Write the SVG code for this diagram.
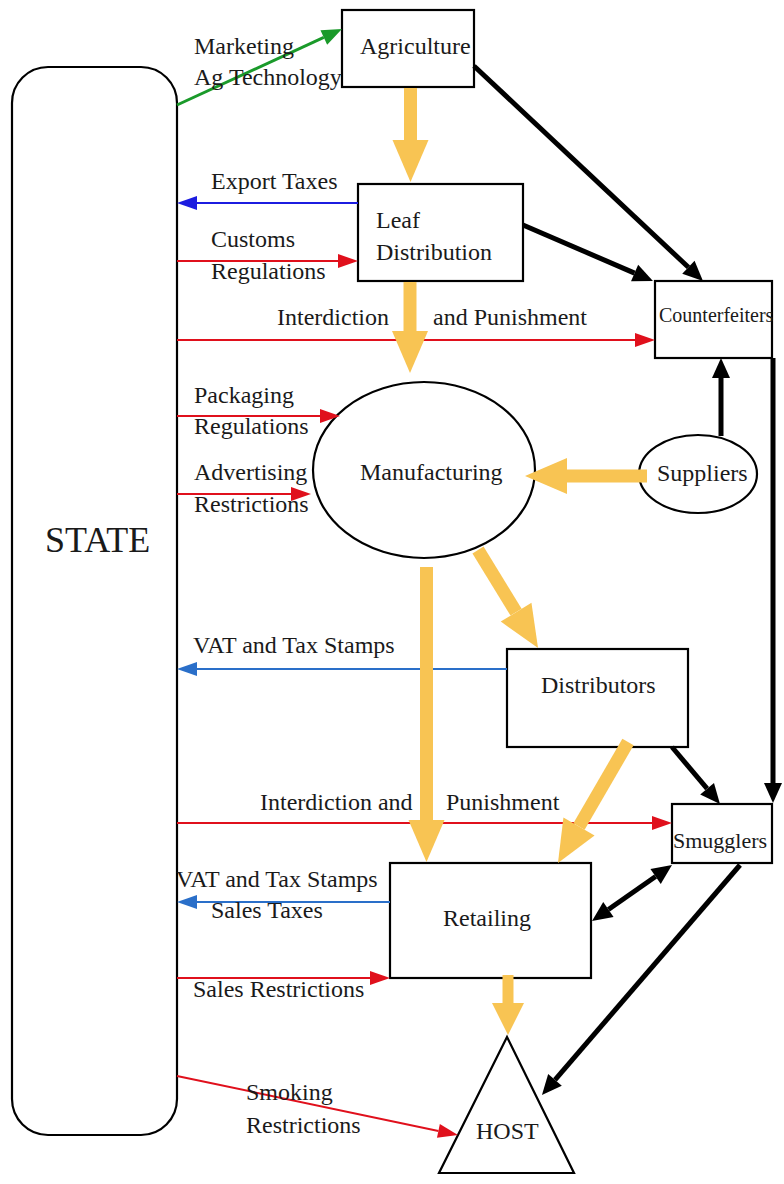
<svg xmlns="http://www.w3.org/2000/svg" width="784" height="1184" viewBox="0 0 784 1184">
<style>
text{font-family:"Liberation Serif","Times New Roman",serif;font-size:24px;fill:#1a1a1a}
.box{fill:#fff;stroke:#000;stroke-width:2.2}
.red{stroke:#e0101c;stroke-width:2;fill:none;marker-end:url(#hr)}
.blue{stroke:#1c1ce0;stroke-width:2;fill:none;marker-end:url(#hb)}
.blue2{stroke:#2a6fc9;stroke-width:2;fill:none;marker-end:url(#hb2)}
.blk{stroke:#000;stroke-width:5;fill:none;marker-end:url(#hk)}
.yel{stroke:#f8c453;stroke-width:13;fill:none;marker-end:url(#hy)}
</style>
<defs>
<marker id="hr" markerUnits="userSpaceOnUse" orient="auto" refX="0" refY="0" overflow="visible"><path d="M0,-7 L20,0 L0,7 Z" fill="#e0101c"/></marker>
<marker id="hb" markerUnits="userSpaceOnUse" orient="auto" refX="0" refY="0" overflow="visible"><path d="M0,-7 L20,0 L0,7 Z" fill="#1c1ce0"/></marker>
<marker id="hb2" markerUnits="userSpaceOnUse" orient="auto" refX="0" refY="0" overflow="visible"><path d="M0,-7 L20,0 L0,7 Z" fill="#2a6fc9"/></marker>
<marker id="hg" markerUnits="userSpaceOnUse" orient="auto" refX="0" refY="0" overflow="visible"><path d="M0,-8 L20,0 L0,8 Z" fill="#1a9a2a"/></marker>
<marker id="hk" markerUnits="userSpaceOnUse" orient="auto-start-reverse" refX="0" refY="0" overflow="visible"><path d="M0,-9 L20,0 L0,9 Z" fill="#000"/></marker>
<marker id="hy" markerUnits="userSpaceOnUse" orient="auto" refX="0" refY="0" overflow="visible"><path d="M0,-18 L42,0 L0,18 Z" fill="#f8c453"/></marker>
<marker id="hys" markerUnits="userSpaceOnUse" orient="auto" refX="0" refY="0" overflow="visible"><path d="M0,-16 L32,0 L0,16 Z" fill="#f8c453"/></marker>
</defs>
<rect width="784" height="1184" fill="#fff"/>

<g id="state"><rect class="box" x="12" y="67" width="165" height="1068" rx="36"/><text x="45" y="552" style="font-size:36px">STATE</text></g>
<g id="agriculture"><rect class="box" x="342" y="10" width="132" height="77"/><text x="360" y="54">Agriculture</text></g>
<g id="leaf-distribution"><rect class="box" x="358" y="184" width="165" height="97"/><text x="376" y="228">Leaf</text><text x="376" y="260">Distribution</text></g>
<g id="counterfeiters"><rect class="box" x="655" y="281" width="117" height="77"/><text x="659" y="322" style="font-size:20px">Counterfeiters</text></g>
<g id="manufacturing"><ellipse class="box" cx="424" cy="470" rx="111" ry="88"/><text x="360" y="480">Manufacturing</text></g>
<g id="suppliers"><ellipse class="box" cx="698" cy="474" rx="59" ry="39"/><text x="657" y="481">Suppliers</text></g>
<g id="distributors"><rect class="box" x="507" y="649" width="181" height="98"/><text x="541" y="693">Distributors</text></g>
<g id="smugglers"><rect class="box" x="672" y="804" width="100" height="59"/><text x="673" y="848" style="font-size:22px">Smugglers</text></g>
<g id="retailing"><rect class="box" x="390" y="863" width="201" height="115"/><text x="443" y="926">Retailing</text></g>
<g id="host"><polygon class="box" points="507,1037 574,1173 439,1173"/><text x="476" y="1139">HOST</text></g>

<g id="connectors">
<line x1="177" y1="105" x2="323.8" y2="37.4" stroke="#1a9a2a" stroke-width="3" marker-end="url(#hg)"/>
<line class="blue" x1="358" y1="203" x2="197" y2="203"/>
<line class="red" x1="177" y1="261" x2="338" y2="261"/>
<line class="red" x1="177" y1="340" x2="635" y2="340"/>
<line class="red" x1="177" y1="416" x2="320" y2="416"/>
<line class="red" x1="177" y1="494" x2="291" y2="494"/>
<line class="blue2" x1="507" y1="669" x2="197" y2="669"/>
<line class="red" x1="177" y1="823" x2="652" y2="823"/>
<line class="blue2" x1="390" y1="902" x2="197" y2="902"/>
<line class="red" x1="177" y1="978" x2="370" y2="978"/>
<line class="red" x1="177" y1="1076" x2="438.4" y2="1130.9"/>

<line class="blk" x1="474" y1="66" x2="688.4" y2="267.3"/>
<line class="blk" x1="523" y1="225" x2="634.6" y2="273.1"/>
<line class="blk" x1="721" y1="436" x2="721" y2="378"/>
<line class="blk" x1="773" y1="358" x2="773" y2="783"/>
<line class="blk" x1="672" y1="747" x2="707.1" y2="788.7"/>
<line class="blk" x1="740" y1="865" x2="555" y2="1079.8"/>
<line class="blk" x1="608.4" y1="909.5" x2="655.6" y2="876.5" marker-start="url(#hk)"/>

<line class="yel" x1="410.5" y1="88" x2="410.5" y2="140"/>
<line class="yel" x1="410" y1="282" x2="410" y2="331"/>
<line class="yel" x1="647" y1="476" x2="567" y2="476"/>
<line class="yel" x1="478" y1="550" x2="516.1" y2="612.2" stroke-width="15"/>
<line class="yel" x1="426.5" y1="567" x2="426.5" y2="820"/>
<line class="yel" x1="628" y1="742" x2="579" y2="826.6" stroke-width="15"/>
<line x1="508" y1="975" x2="508" y2="1003" stroke="#f8c453" stroke-width="11" marker-end="url(#hys)"/>
</g>

<g id="labels">
<text x="194" y="54">Marketing</text>
<text x="194" y="85">Ag Technology</text>
<text x="211" y="189">Export Taxes</text>
<text x="211" y="247">Customs</text>
<text x="211" y="279">Regulations</text>
<text x="277" y="325">Interdiction</text>
<text x="433" y="325">and Punishment</text>
<text x="194" y="403">Packaging</text>
<text x="194" y="434">Regulations</text>
<text x="194" y="480">Advertising</text>
<text x="194" y="512">Restrictions</text>
<text x="193" y="653">VAT and Tax Stamps</text>
<text x="260" y="810">Interdiction and</text>
<text x="446" y="810">Punishment</text>
<text x="176" y="887">VAT and Tax Stamps</text>
<text x="211" y="918">Sales Taxes</text>
<text x="193" y="997">Sales Restrictions</text>
<text x="246" y="1100">Smoking</text>
<text x="246" y="1133">Restrictions</text>
</g>
</svg>
